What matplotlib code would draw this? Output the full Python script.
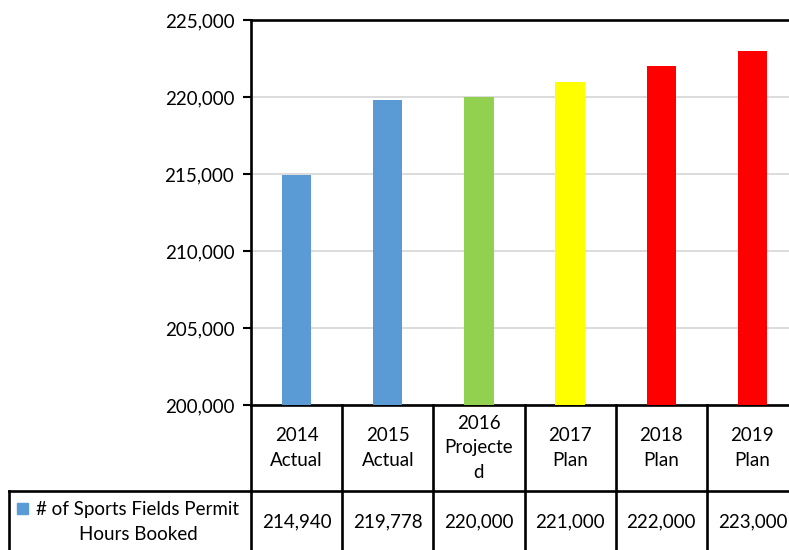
import matplotlib
matplotlib.use("Agg")
import matplotlib.pyplot as plt
from matplotlib.transforms import blended_transform_factory
from matplotlib.ticker import FuncFormatter, MultipleLocator

plt.rcParams['font.family'] = ['Lato', 'DejaVu Sans']

categories = ["2014\nActual", "2015\nActual", "2016\nProjecte\nd", "2017\nPlan", "2018\nPlan", "2019\nPlan"]
values = [214940, 219778, 220000, 221000, 222000, 223000]
value_labels = ["214,940", "219,778", "220,000", "221,000", "222,000", "223,000"]
colors = ["#5B9BD5", "#5B9BD5", "#92D050", "#FFFF00", "#FF0000", "#FF0000"]
series_name = "# of Sports Fields Permit\nHours Booked"

W, H = 789, 550
fig = plt.figure(figsize=(W / 100, H / 100), dpi=100)
ax_l, ax_r, ax_t, ax_b = 251, 798, 20, 405
ax = fig.add_axes([ax_l / W, 1 - ax_b / H, (ax_r - ax_l) / W, (ax_b - ax_t) / H])

x = list(range(len(categories)))
ax.bar(x, values, width=0.32, color=colors, zorder=3)
ax.set_xlim(-0.5, len(categories) - 0.5)
ax.set_ylim(200000, 225000)
ax.yaxis.set_major_locator(MultipleLocator(5000))
ax.yaxis.set_major_formatter(FuncFormatter(lambda v, p: f"{int(v):,}"))
ax.grid(axis='y', color='#D9D9D9', linewidth=1.3, zorder=0)
ax.set_xticks([])
ax.tick_params(axis='y', length=6, width=1.5, color='black', labelsize=13.5, pad=6)
for s in ['left', 'top', 'bottom', 'right']:
    ax.spines[s].set_color('black')
    ax.spines[s].set_linewidth(1.9)

# Data table
ax_h = ax_b - ax_t
hdr_bot = -(491 - ax_b) / ax_h
row_bot = -(565 - ax_b) / ax_h
tr = blended_transform_factory(ax.transData, ax.transAxes)
trf = blended_transform_factory(fig.transFigure, ax.transAxes)
lw = 1.9
n = len(categories)
for i in range(n + 1):
    ax.plot([i - 0.5, i - 0.5], [0, row_bot], transform=tr, color='black', lw=lw, clip_on=False)
ax.plot([-0.5, n - 0.5], [hdr_bot, hdr_bot], transform=tr, color='black', lw=lw, clip_on=False)
ax.plot([9 / W, ax_l / W], [hdr_bot, hdr_bot], transform=trf, color='black', lw=lw, clip_on=False)
ax.plot([9 / W, 9 / W], [hdr_bot, row_bot], transform=trf, color='black', lw=lw, clip_on=False)

for i, (c, v) in enumerate(zip(categories, value_labels)):
    ax.text(i, -(448 - ax_b) / ax_h, c, transform=tr, ha='center', va='center', fontsize=13.5, linespacing=1.55)
    ax.text(i, -(522 - ax_b) / ax_h, v, transform=tr, ha='center', va='center', fontsize=13.5)

# legend cell
ax.text(138 / W, -(522 - ax_b) / ax_h, series_name, transform=trf, ha='center', va='center',
        fontsize=13.5, linespacing=1.6)
fig.patches.append(plt.Rectangle((17 / W, 1 - 514 / H), 11 / W, 11 / H, transform=fig.transFigure,
                                 color=colors[0]))

fig.savefig("out.png", dpi=100)
